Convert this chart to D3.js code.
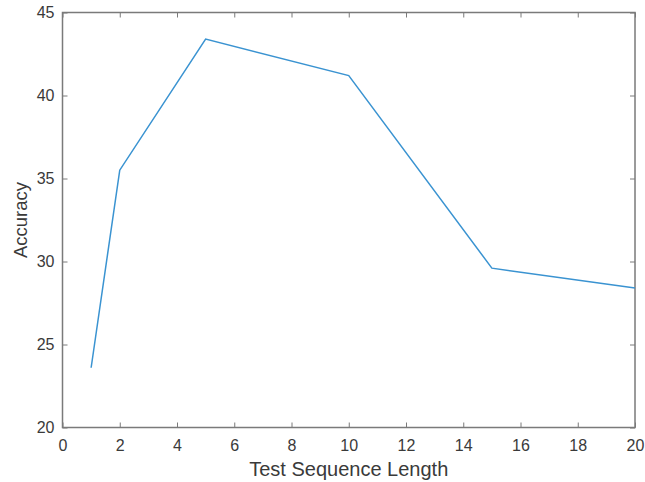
<!DOCTYPE html>
<html>
<head>
<meta charset="utf-8">
<script src="https://cdn.jsdelivr.net/npm/d3@7"></script>
<style>
  body { margin: 0; background: #fff; }
  text { font-family: "Liberation Sans", Arial, sans-serif; }
</style>
</head>
<body>
<svg id="chart" width="645" height="482"></svg>
<script>
// data
var seqLength = [1, 2, 5, 10, 15, 20];
var accuracy = [23.6, 35.5, 43.4, 41.2, 29.6, 28.4];
var xTicks = [0, 2, 4, 6, 8, 10, 12, 14, 16, 18, 20];
var yTicks = [20, 25, 30, 35, 40, 45];

var svg = d3.select("#chart");
var margin = {left: 62.5, top: 12.5, right: 10, bottom: 54.5};
var width = 645 - margin.left - margin.right,
    height = 482 - margin.top - margin.bottom;

var axisColor = "#7a7a7a", textColor = "#3a3a3a";

var x = d3.scaleLinear().domain([0, 20]).range([0, width]);
var y = d3.scaleLinear().domain([20, 45]).range([height, 0]);

var g = svg.append("g").attr("transform", "translate(" + margin.left + "," + margin.top + ")");

function styleAxis(sel, showText) {
  sel.select(".domain").remove();
  sel.selectAll(".tick line").attr("stroke", axisColor).attr("stroke-width", 1);
  sel.selectAll(".tick text")
    .attr("fill", textColor)
    .style("font-size", "16px")
    .style("display", showText ? null : "none");
}

// ticks point inward on all four sides
g.append("g").attr("transform", "translate(0," + height + ")")
  .call(d3.axisBottom(x).tickValues(xTicks).tickSizeInner(-5).tickSizeOuter(0).tickPadding(12))
  .call(styleAxis, true);
g.append("g")
  .call(d3.axisTop(x).tickValues(xTicks).tickSizeInner(-5).tickSizeOuter(0))
  .call(styleAxis, false);
g.append("g")
  .call(d3.axisLeft(y).tickValues(yTicks).tickSizeInner(-5).tickSizeOuter(0).tickPadding(8))
  .call(styleAxis, true);
g.append("g").attr("transform", "translate(" + width + ",0)")
  .call(d3.axisRight(y).tickValues(yTicks).tickSizeInner(-5).tickSizeOuter(0))
  .call(styleAxis, false);

// box
g.append("rect")
  .attr("width", width).attr("height", height)
  .attr("fill", "none").attr("stroke", axisColor).attr("stroke-width", 1.5);

var line = d3.line()
  .x(function(d, i) { return x(seqLength[i]); })
  .y(function(d) { return y(d); });

g.append("path")
  .datum(accuracy)
  .attr("fill", "none")
  .attr("stroke", "#3a93d1")
  .attr("stroke-width", 1.5)
  .attr("d", line);

svg.append("text")
  .attr("x", margin.left + width / 2).attr("y", 476)
  .attr("text-anchor", "middle")
  .attr("fill", textColor)
  .style("font-size", "20px")
  .text("Test Sequence Length");

svg.append("text")
  .attr("transform", "translate(27," + (margin.top + height / 2) + ") rotate(-90)")
  .attr("text-anchor", "middle")
  .attr("fill", textColor)
  .style("font-size", "18.5px")
  .text("Accuracy");
</script>
</body>
</html>
